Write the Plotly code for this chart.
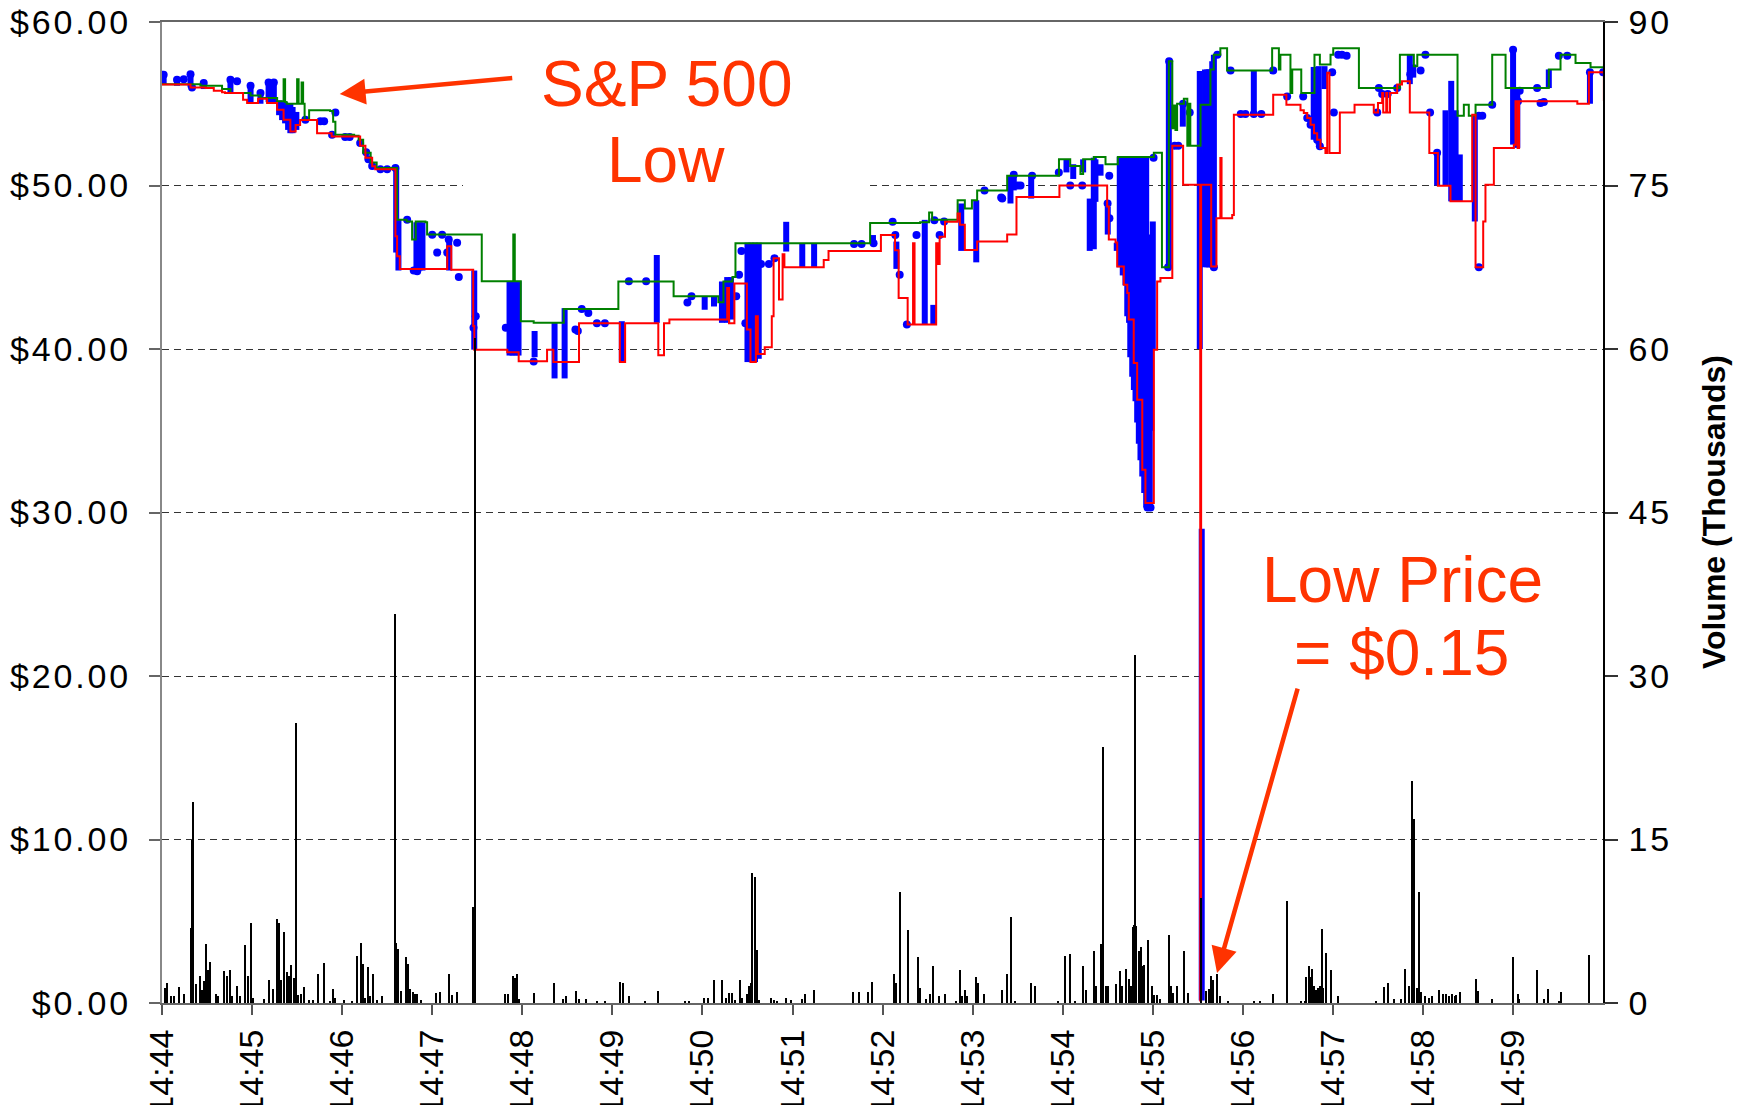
import pandas as pd
import plotly.graph_objects as go

# seconds after 14:44:00 on the trading day
BASE = pd.Timestamp("2010-05-06 14:44:00")

# best offer / high (green), stepped
green_sec = [0, 25.6, 40, 45.6, 59, 65.6, 76.7, 81, 82, 83, 90, 91, 93, 94, 95, 98, 112, 114, 115.5, 128,
             131, 134, 139, 143, 156.6, 163, 166.6, 169, 175.5, 176.6, 213, 234, 235, 239, 247.6, 267.6, 304, 340.8, 370.6, 374,
             380, 382, 471.7, 505, 511, 513, 530, 534.8, 539.5, 543, 563, 597.5, 605, 611.8, 613.6, 620.7, 628.5, 636.7, 660.7, 666.1,
             670.7, 673, 674, 675.1, 676.2, 680.7, 683, 684, 685, 691.8, 698.4, 700.6, 705, 709.5, 739.5, 744, 745, 751.7, 752.9, 758.9,
             767.7, 771.3, 778.4, 780.2, 797.3, 824.6, 833.9, 836.2, 863, 867.2, 870.5, 875, 886.1, 895, 923.8, 931.6, 941.6, 951.6, 960.5]
green_px = [56.2, 56.1, 55.9, 55.65, 55.5, 55.35, 55.15, 56.5, 55.1, 55.0, 56.5, 55.0, 56.3, 55.0, 54.0, 54.6, 54.55, 53.9, 53.1, 53.05,
            52.8, 52.0, 51.4, 51.07, 47.9, 47.8, 46.7, 47.8, 47.75, 47.0, 44.15, 47.0, 44.15, 41.7, 41.6, 42.45, 44.13, 43.22, 42.86, 44.13,
            44.4, 46.47, 47.7, 47.75, 48.35, 47.9, 49.1, 48.6, 49.1, 49.7, 50.6, 51.6, 51.2, 50.7, 51.6, 51.75, 51.3, 51.75, 52.0, 45.0,
            57.6, 53.5, 54.9, 53.4, 55.0, 55.3, 52.43, 55.0, 52.43, 54.94, 57.1, 58.0, 58.4, 57.04, 58.4, 57.1, 58.0, 55.65, 57.1, 55.65,
            58.0, 57.4, 58.0, 58.4, 55.96, 58.0, 57.3, 58.0, 54.27, 54.94, 54.27, 54.94, 58.0, 55.96, 57.1, 58.0, 57.5, 57.24, 57.4]

# best bid / low (red), stepped
red_sec = [0, 19, 29, 34.5, 40, 42, 54, 56.7, 64, 70, 76.7, 81, 85.5, 89, 92, 103.3, 113, 132, 135.5, 140,
           142, 155.5, 156.6, 158.4, 190, 192.7, 207.3, 208, 230, 237.6, 256.5, 260.7, 277.8, 305, 308.5, 330.6, 334.4, 338, 376.5, 377.7,
           381.3, 389.6, 392, 395.6, 396.9, 401.5, 406.2, 407.4, 411, 413.4, 414.6, 440.8, 444, 478.9, 488.3, 490.7, 496.7, 500.3, 501.3, 515.7,
           517, 518, 521.6, 530, 531.5, 534.8, 543, 563, 569.2, 597.8, 629.6, 630.7, 635.2, 636.3, 640.7, 643, 644, 647.3, 649.6, 653,
           655.1, 660.7, 662.9, 665.1, 673, 680.2, 691.6, 692.2, 698.9, 702.4, 705, 705.8, 712.9, 714, 740.2, 749, 758.4, 760.6, 762.9, 765.1,
           767.4, 769.5, 771.7, 775, 776.2, 777.7, 784.6, 794.4, 807.2, 810, 812.8, 813.5, 815.5, 816.2, 818, 822.8, 826, 831.2, 844.2, 849.9,
           858.3, 872.8, 875, 880.1, 881.6, 887.2, 900.5, 901.6, 903, 904, 942.8, 950.5, 960.5]
red_px = [56.17, 56.0, 55.96, 55.8, 55.7, 55.65, 55.25, 55.05, 55.3, 55.05, 54.64, 54.02, 53.3, 53.7, 54.0, 53.2, 53.0, 52.43, 51.7, 51.17,
          51.0, 46.9, 45.67, 44.9, 46.28, 44.85, 41.4, 39.96, 39.8, 39.25, 39.96, 39.2, 41.57, 39.2, 41.57, 39.62, 41.57, 41.8, 43.73, 41.57,
          44.0, 41.2, 39.2, 42.0, 39.7, 40.1, 42.0, 45.55, 43.02, 45.8, 45.0, 45.45, 46.0, 46.97, 46.04, 43.12, 41.5, 46.47, 41.5, 46.47,
          45.2, 46.87, 47.78, 48.29, 47.6, 46.06, 46.57, 47.0, 49.3, 50.0, 48.72, 46.69, 46.52, 45.05, 43.93, 43.42, 41.8, 39.14, 36.9, 32.62,
          30.58, 39.96, 44.13, 44.34, 52.43, 50.05, 0.15, 50.05, 45.05, 48.0, 51.68, 48.0, 48.2, 54.33, 55.55, 54.94, 54.6, 54.43, 54.13, 53.72,
          53.2, 52.8, 52.29, 51.99, 56.9, 51.99, 54.47, 54.94, 54.47, 55.05, 55.66, 54.47, 55.66, 54.47, 55.66, 56.17, 56.37, 54.47, 51.99, 49.99,
          49.03, 54.33, 45.0, 47.8, 50.05, 52.29, 52.5, 55.15, 52.3, 55.15, 55.0, 56.92, 55.15]

# trade price ranges printed within a second (blue bars)
run_sec = [1.1, 10, 19, 27.8, 45.6, 59, 65.6, 71, 74.5, 78, 80, 82, 84, 85.5, 87, 89.5, 156, 157.5, 169.5, 171.5,
           173.5, 191.3, 208, 231.5, 233.5, 235.5, 237.5, 248.2, 261.5, 268.2, 306.3, 329.6, 361.5, 367.7, 373, 376.5, 379, 390, 392.5, 395,
           397.5, 415.8, 426.5, 434.4, 473.6, 489.2, 508.1, 513.8, 532.4, 542.4, 565.2, 567.4, 579, 602.5, 607, 613.6, 618, 620.7, 621.8, 625.2,
           630, 636, 638, 641.8, 644.2, 646.3, 648.5, 650.7, 653, 655.6, 658, 660, 670.7, 673.6, 680, 691.3, 692.6, 693.8, 696.3, 698.4,
           700.7, 727.3, 767.2, 770.5, 774.4, 831.2, 833.5, 849.4, 855, 858.8, 861.7, 864.5, 874.5, 900, 902.8, 923.8, 951.2,
           640, 643, 645, 647.4, 649.6, 651.8, 654.3, 656.8, 659, 694.8, 697.4, 699.6]
run_lo = [56.2, 56.1, 56.0, 55.9, 55.65, 55.1, 55.0, 55.1, 55.0, 54.3, 54.0, 53.8, 53.4, 53.2, 53.2, 53.4, 45.9, 44.8, 44.8, 44.8,
          44.8, 44.8, 39.96, 39.6, 39.6, 39.6, 39.6, 39.5, 38.2, 38.2, 39.2, 41.6, 42.4, 42.6, 41.6, 41.6, 41.8, 39.2, 39.2, 39.2,
          39.4, 45.96, 45.0, 45.0, 46.47, 44.9, 41.5, 41.5, 46.0, 45.3, 48.9, 49.7, 49.2, 50.8, 50.4, 50.8, 46.0, 46.1, 49.0, 50.6,
          47.0, 46.0, 45.0, 43.9, 41.6, 38.3, 36.8, 34.2, 32.2, 30.3, 30.3, 40.0, 45.0, 53.5, 53.6, 40.0, 0.15, 50.0, 45.0, 45.0,
          45.0, 54.37, 52.8, 52.5, 55.9, 56.2, 56.6, 50.0, 50.0, 49.03, 49.03, 49.03, 47.8, 52.5, 52.3, 55.96, 55.0,
          44.5, 42.0, 39.5, 37.5, 35.5, 33.2, 31.2, 30.3, 35.0, 45.0, 45.0, 45.0]
run_hi = [56.8, 56.5, 56.8, 56.3, 56.5, 56.2, 55.65, 56.3, 56.3, 55.2, 55.1, 55.1, 55.0, 55.0, 54.8, 54.5, 51.1, 47.9, 47.75, 47.75,
          47.75, 46.7, 44.8, 44.15, 44.15, 44.15, 44.15, 41.1, 41.6, 42.5, 41.7, 45.75, 43.2, 43.2, 44.13, 44.4, 44.4, 46.5, 46.5, 46.5,
          46.5, 47.78, 46.47, 46.47, 46.97, 46.57, 47.9, 42.7, 48.9, 49.1, 50.6, 50.66, 50.66, 51.6, 51.3, 51.6, 49.2, 51.7, 51.6, 51.3,
          48.7, 46.5, 51.75, 51.75, 43.1, 47.8, 51.75, 51.75, 51.75, 51.75, 43.0, 47.8, 57.6, 54.9, 55.0, 57.0, 29.0, 52.0, 57.1, 57.1,
          58.0, 57.04, 57.25, 57.3, 57.3, 58.0, 57.4, 52.1, 54.6, 56.4, 54.6, 51.9, 54.33, 58.3, 56.0, 57.1, 56.92,
          51.75, 51.75, 51.75, 51.75, 51.75, 51.75, 51.75, 47.0, 45.0, 57.1, 57.1, 57.6]

# single trades (blue dots)
trade_sec = [1.1, 10, 14.5, 19, 20, 27.8, 45.6, 50, 59, 65.6, 71, 74.5, 95.5, 105.5, 108, 115.5, 113.3, 122, 125, 132,
             136, 137.5, 140, 145.5, 150, 155.5, 163.3, 167.7, 170, 180, 186.6, 191, 196.6, 183.3, 190, 197.7, 209, 207.5, 229, 247.6,
             277, 279.6, 284, 275.4, 289.7, 295, 311, 322.5, 350, 352.7, 382.5, 384.4, 386, 388.6, 399, 404.3, 408, 461, 466, 474,
             486.7, 488.5, 491.4, 496.2, 502.6, 514.5, 518, 521, 547.9, 559, 559.7, 567.4, 570, 571.9, 579.6, 597.4, 605, 613, 629.9, 631.1,
             631, 644.2, 656.5, 658.5, 660.5, 670.2, 670.9, 674.6, 677, 680.2, 684.6, 700.7, 703, 711.8, 718.6, 721.7, 727.3, 732.3, 740.2, 749.5,
             760.2, 762.9, 765.1, 769.5, 771.3, 779.5, 780.6, 783.5, 786, 789.1, 809.5, 810.6, 812.8, 816.5, 822.8, 831.5, 838.4, 841.6, 844.7, 849.4,
             877.2, 879.5, 877.2, 886.1, 900, 904.4, 903.3, 916, 918.3, 920.5, 930.5, 936.1, 951.2, 960]
trade_px = [56.78, 56.47, 56.5, 56.8, 56.0, 56.27, 56.47, 56.37, 56.1, 55.65, 56.3, 56.3, 54.02, 53.93, 53.93, 54.47, 53.1, 52.97, 52.97, 52.6,
            52.03, 51.6, 51.2, 51.0, 51.0, 51.07, 47.9, 44.8, 44.75, 46.99, 46.99, 46.7, 46.5, 45.9, 45.9, 44.4, 42.0, 41.3, 41.3, 39.24,
            41.1, 42.45, 42.2, 41.2, 41.57, 41.57, 44.15, 44.15, 42.85, 43.22, 43.22, 44.54, 46.0, 41.57, 45.2, 45.2, 45.55, 46.42, 46.42, 46.47,
            47.78, 46.97, 44.54, 41.5, 46.97, 47.88, 46.97, 47.8, 49.7, 49.26, 49.2, 50.66, 50.0, 50.0, 50.6, 50.8, 50.0, 50.0, 48.9, 48.0,
            50.6, 42.6, 30.3, 30.3, 51.7, 45.0, 57.6, 52.43, 52.43, 55.0, 54.47, 45.0, 58.0, 57.04, 54.37, 54.37, 54.37, 54.37, 57.04, 55.45,
            55.45, 54.13, 53.72, 52.8, 52.4, 56.92, 54.47, 58.0, 58.0, 57.94, 54.47, 55.96, 55.6, 55.6, 55.96, 56.8, 57.04, 58.0, 54.47, 52.0,
            54.27, 54.27, 45.0, 54.94, 58.3, 55.8, 55.15, 55.96, 55.05, 55.1, 57.94, 57.94, 56.92, 56.92]

# volume per print, thousands of shares
vol_sec = [2.1, 3.5, 6, 8, 11.7, 14.5, 19.3, 20.0, 20.8, 22.5, 25.4, 27, 28.2, 29.3, 30.8, 32.3, 36, 37.5, 41.5, 43.5,
           45.3, 46.6, 50, 52, 55.6, 57.5, 59.1, 60.5, 68, 71.3, 74, 76.7, 78, 79.5, 81.3, 83.3, 84.7, 86.2, 88, 89.1,
           90.5, 92.5, 94.5, 98, 101, 103.8, 107.7, 112, 114.2, 115.5, 121.5, 127, 130.2, 132.5, 134, 135.5, 137.5, 139, 140.6, 143,
           146.5, 155.2, 156.2, 157.6, 159, 162.4, 164, 165.5, 167, 168.5, 170, 172.5, 182.8, 185.5, 191, 193, 196.3, 207.6, 208.3, 228.9,
           230.5, 233.9, 235.2, 236.5, 238, 248, 261, 267, 269, 276, 278, 282.5, 290, 295, 305.4, 307, 311.5, 322, 330.2, 348.5,
           351, 361, 363.5, 367.7, 373.1, 376, 378, 379.8, 381.5, 384.9, 386.5, 389.5, 391, 392.2, 393.3, 394.8, 396.4, 398, 405.5, 407.5,
           410, 416, 419, 426.5, 428.5, 434.6, 460.3, 464.5, 470.7, 472.9, 487.4, 489, 491.5, 496.8, 503.7, 505, 509, 511.5, 513.9, 517.8,
           521.6, 529.3, 531.9, 533, 534.9, 536.4, 542.5, 543.7, 547.5, 559.7, 562.8, 565.5, 568.5, 579.2, 581.5, 597, 601.7, 604.8, 608.6, 613.9,
           615.5, 620.8, 622, 625.4, 626.8, 628.7, 630.6, 635.8, 638, 639.5, 642.5, 644, 645.5, 647.1, 647.8, 648.4, 649.2, 650.7, 652.2, 653.4,
           654.5, 657, 659.3, 660.8, 662.7, 664.6, 670.7, 672.3, 673.4, 676, 680.6, 683.6, 692.1, 695.7, 697.3, 699, 700.5, 702.8, 704.7, 710.5,
           727.7, 731.5, 740.2, 749.4, 759, 761.3, 762.3, 763.9, 765, 766.2, 767.7, 768.9, 770, 771.5, 772.7, 773.8, 775.3, 779.1, 783.6, 808.7,
           814.2, 816.5, 821, 825.5, 828.4, 830.7, 832.6, 834.1, 835.9, 837.5, 838.6, 841.3, 844, 845.9, 850.9, 853.5, 855.5, 857.4, 859.3, 861.2,
           862.3, 865, 875.2, 876.7, 885.8, 900.1, 903.1, 904.2, 915.8, 920.4, 923.4, 930.6, 931.8, 950.9]
vol_k = [1.4, 1.8, 0.6, 0.6, 1.5, 0.8, 6.9, 15.0, 18.4, 1.7, 2.5, 1.2, 2.0, 5.4, 3.0, 3.8, 0.8, 0.6, 2.9, 2.5,
         3.0, 0.6, 1.6, 0.6, 5.3, 2.5, 7.3, 0.5, 0.4, 2.1, 1.3, 7.7, 7.3, 2.1, 6.5, 2.8, 2.5, 3.5, 2.3, 25.7,
         0.7, 0.8, 1.5, 0.3, 0.3, 2.7, 3.7, 0.2, 1.3, 0.5, 0.3, 0.2, 4.3, 5.5, 3.6, 0.5, 3.3, 0.6, 2.7, 0.3,
         0.6, 35.7, 5.5, 5.0, 1.1, 4.2, 3.6, 1.3, 1.0, 0.8, 0.8, 0.3, 0.9, 1.0, 2.7, 0.7, 1.0, 8.8, 61.0, 0.8,
         0.8, 2.5, 2.3, 2.7, 0.4, 0.9, 1.8, 0.4, 0.6, 1.1, 0.4, 0.4, 0.2, 0.2, 1.9, 1.8, 0.6, 0.2, 1.1, 0.2,
         0.2, 0.5, 0.5, 2.1, 2.1, 0.5, 0.9, 0.9, 0.3, 2.1, 0.5, 0.8, 1.6, 1.8, 11.9, 11.6, 4.9, 0.3, 0.5, 0.3,
         0.2, 0.5, 0.3, 0.4, 0.8, 1.2, 1.0, 1.0, 1.0, 1.9, 2.7, 1.8, 10.2, 6.7, 4.2, 1.4, 0.4, 0.8, 3.4, 0.6,
         0.8, 0.2, 3.0, 0.6, 1.2, 0.6, 2.4, 1.8, 0.8, 1.2, 2.7, 7.9, 0.2, 1.8, 1.6, 0.2, 4.3, 4.5, 0.2, 3.4,
         1.2, 4.8, 1.6, 5.4, 23.5, 1.6, 1.6, 1.7, 2.9, 1.6, 3.1, 2.2, 1.6, 7.0, 7.2, 31.9, 7.1, 4.8, 5.1, 3.4,
         3.5, 5.8, 1.6, 0.7, 0.7, 0.4, 6.2, 1.6, 0.9, 1.6, 4.8, 0.9, 9.6, 1.1, 1.3, 2.5, 2.1, 2.7, 0.6, 0.2,
         0.2, 0.2, 0.8, 9.4, 0.2, 0.2, 2.4, 3.4, 2.4, 3.1, 1.6, 1.2, 1.4, 1.6, 6.8, 1.4, 4.6, 3.0, 0.6, 0.2,
         1.5, 1.8, 0.4, 0.4, 3.1, 1.6, 20.4, 16.9, 1.4, 10.2, 1.0, 0.6, 0.5, 0.6, 1.2, 0.8, 0.8, 0.6, 0.8, 0.6,
         0.7, 1.0, 2.2, 1.1, 0.4, 4.2, 0.8, 0.4, 3.0, 0.4, 1.3, 0.2, 1.0, 4.4]

minute_ticks = ["14:%02d" % m for m in range(44, 60)]
price_ticks = [0, 10, 20, 30, 40, 50, 60]
volume_ticks = [0, 15, 30, 45, 60, 75, 90]

ORANGE = "#FF3300"
FONT = "Liberation Sans, Arial, sans-serif"


def ts(secs):
    return [BASE + pd.Timedelta(seconds=s) for s in secs]


def spaced(s):
    # the source chart prints its axis numbers slightly letter-spaced
    return "\u200a".join(s)


# blue price runs drawn as vertical strokes
run_x, run_y = [], []
for t, lo, hi in zip(run_sec, run_lo, run_hi):
    run_x += [BASE + pd.Timedelta(seconds=t), BASE + pd.Timedelta(seconds=t), None]
    run_y += [lo, hi, None]

fig = go.Figure()
fig.add_trace(go.Bar(x=ts(vol_sec), y=vol_k, yaxis="y2", width=900,
                     marker=dict(color="black", line=dict(width=0)), showlegend=False))
fig.add_trace(go.Scatter(x=run_x, y=run_y, mode="lines", line=dict(color="#0000FF", width=6),
                         connectgaps=False, showlegend=False))
fig.add_trace(go.Scatter(x=ts(trade_sec), y=trade_px, mode="markers",
                         marker=dict(color="#0000FF", size=8), showlegend=False))
fig.add_trace(go.Scatter(x=ts(green_sec), y=green_px, mode="lines", line_shape="hv",
                         line=dict(color="#008000", width=2), showlegend=False))
fig.add_trace(go.Scatter(x=ts(red_sec), y=red_px, mode="lines", line_shape="hv",
                         line=dict(color="#FF0000", width=2), showlegend=False))

tick_font = dict(family=FONT, size=34, color="black")

fig.update_layout(
    width=1748, height=1105,
    margin=dict(l=162, r=145, t=22, b=102),
    paper_bgcolor="white", plot_bgcolor="white",
    showlegend=False, bargap=0,
    xaxis=dict(type="date", range=[BASE, BASE + pd.Timedelta(seconds=959.9)],
               tickvals=ts([60 * i for i in range(16)]), ticktext=minute_ticks,
               tickangle=-90, tickfont=tick_font, ticks="outside", ticklen=10, tickwidth=1.5,
               tickcolor="#555", ticklabelstandoff=1, showgrid=False, showline=True, linecolor="#666",
               linewidth=2, mirror=True, automargin=False, zeroline=False),
    yaxis=dict(range=[0, 60], tickvals=price_ticks, ticktext=[spaced("$%.2f" % v) for v in price_ticks],
               tickfont=tick_font, ticks="outside", ticklen=11, tickcolor="#666", tickwidth=1.5,
               ticklabelstandoff=14, showgrid=True, gridcolor="#333", gridwidth=1, griddash="7px,5px",
               showline=True, linecolor="#888", linewidth=2, zeroline=False, automargin=False),
    yaxis2=dict(range=[0, 90], tickvals=volume_ticks, ticktext=[spaced(str(v)) for v in volume_ticks],
                overlaying="y", side="right", tickfont=tick_font,
                ticks="outside", ticklen=13, tickcolor="#333", tickwidth=1.5, ticklabelstandoff=4,
                showgrid=False, showline=True, linecolor="black", linewidth=1.5, zeroline=False,
                automargin=False),
)

# white strips where the callout boxes interrupt the dashed grid
fig.add_shape(type="rect", layer="between", xref="x", yref="y",
              x0=BASE + pd.Timedelta(seconds=200.5), x1=BASE + pd.Timedelta(seconds=470),
              y0=49.4, y1=50.6, fillcolor="white", line=dict(width=0))
fig.add_shape(type="rect", layer="between", xref="x", yref="y",
              x0=BASE + pd.Timedelta(seconds=693.5), x1=BASE + pd.Timedelta(seconds=960),
              y0=19.4, y1=20.6, fillcolor="white", line=dict(width=0))

big = dict(family=FONT, size=64, color=ORANGE)
fig.add_annotation(x=BASE + pd.Timedelta(seconds=335.9), y=56.2, text="S&P 500", showarrow=False, font=big)
fig.add_annotation(x=BASE + pd.Timedelta(seconds=335.9), y=51.53, text="Low", showarrow=False, font=big)
fig.add_annotation(x=BASE + pd.Timedelta(seconds=118.4), y=55.6, text="", showarrow=True, ax=174, ay=-16,
                   arrowhead=2, arrowsize=1.15, arrowwidth=4.5, arrowcolor=ORANGE, standoff=0)
fig.add_annotation(x=BASE + pd.Timedelta(seconds=826.4), y=25.89, text="Low Price", showarrow=False, font=big)
fig.add_annotation(x=BASE + pd.Timedelta(seconds=825.5), y=21.39, text="= $0.15", showarrow=False, font=big)
fig.add_annotation(x=BASE + pd.Timedelta(seconds=702.8), y=1.83, text="", showarrow=True, ax=81, ay=-286,
                   arrowhead=2, arrowsize=1.15, arrowwidth=4.5, arrowcolor=ORANGE, standoff=0)
fig.add_annotation(xref="paper", yref="paper", x=1.0906, y=0.5, text="<b>Volume (Thousands)</b>",
                   textangle=-90, showarrow=False, font=dict(family=FONT, size=32, color="black"))

fig.write_html("out.html", config=dict(displayModeBar=False),
               post_script="document.body.style.margin='0px';")
